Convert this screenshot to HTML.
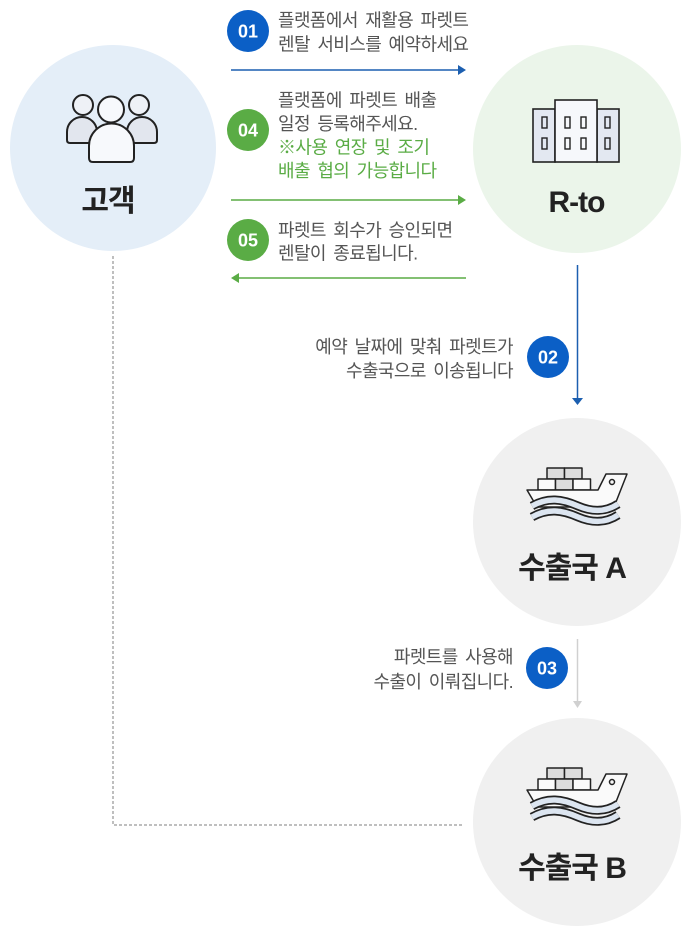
<!DOCTYPE html>
<html>
<head>
<meta charset="utf-8">
<style>
  html,body{margin:0;padding:0;background:#fff;}
  body{width:687px;height:930px;overflow:hidden;}
  svg{display:block;}
  .t{font-family:"Liberation Sans","Noto Sans CJK KR",sans-serif;font-size:18px;fill:#555;letter-spacing:-0.6px;word-spacing:3px;}
  .g{fill:#5aac45;}
  .n{font-family:"Liberation Sans","Noto Sans CJK KR",sans-serif;font-size:18px;font-weight:bold;fill:#fff;}
  .L{font-family:"Liberation Sans","Noto Sans CJK KR",sans-serif;font-size:30px;font-weight:bold;fill:#222;letter-spacing:-1px;}
</style>
</head>
<body>
<svg width="687" height="930" viewBox="0 0 687 930" xmlns="http://www.w3.org/2000/svg">
  <!-- circles -->
  <circle cx="113" cy="148" r="103" fill="#e4eef8"/>
  <circle cx="577" cy="149" r="104" fill="#ebf5ea"/>
  <circle cx="577" cy="522" r="104" fill="#f0f0f0"/>
  <circle cx="577" cy="822" r="104" fill="#f0f0f0"/>

  <!-- dashed connector -->
  <path d="M113,256 V825 H462" fill="none" stroke="#aaa" stroke-width="1.5" stroke-dasharray="3,2"/>

  <!-- arrows -->
  <line x1="231" y1="70" x2="460" y2="70" stroke="#1c5fb0" stroke-width="1.5"/>
  <polygon points="458,65 466,70 458,75" fill="#1c5fb0"/>
  <line x1="231" y1="200" x2="460" y2="200" stroke="#5aac45" stroke-width="1.5"/>
  <polygon points="458,195 466,200 458,205" fill="#5aac45"/>
  <line x1="237" y1="278" x2="466" y2="278" stroke="#5aac45" stroke-width="1.5"/>
  <polygon points="239,273 231,278 239,283" fill="#5aac45"/>
  <line x1="577.5" y1="265" x2="577.5" y2="399" stroke="#1c5fb0" stroke-width="1.5"/>
  <polygon points="572,398 577.5,405 583,398" fill="#1c5fb0"/>
  <line x1="577.5" y1="639" x2="577.5" y2="702" stroke="#d0d0d0" stroke-width="1.5"/>
  <polygon points="573,701 577.5,708 582,701" fill="#d0d0d0"/>

  <!-- badges -->
  <circle cx="248" cy="31" r="21" fill="#0b5fc6"/>
  <text class="n" x="248" y="37.5" text-anchor="middle">01</text>
  <circle cx="248" cy="130" r="21" fill="#5aac45"/>
  <text class="n" x="248" y="136.5" text-anchor="middle">04</text>
  <circle cx="248" cy="240" r="21" fill="#5aac45"/>
  <text class="n" x="248" y="246.5" text-anchor="middle">05</text>
  <circle cx="548" cy="357" r="21" fill="#0b5fc6"/>
  <text class="n" x="548" y="363.5" text-anchor="middle">02</text>
  <circle cx="547" cy="668" r="21" fill="#0b5fc6"/>
  <text class="n" x="547" y="674.5" text-anchor="middle">03</text>

  <!-- step texts -->
  <text class="t" x="278" y="26.5">플랫폼에서 재활용 파렛트</text>
  <text class="t" x="278" y="50.5">렌탈 서비스를 예약하세요</text>

  <text class="t" x="278" y="106.5">플랫폼에 파렛트 배출</text>
  <text class="t" x="278" y="130">일정 등록해주세요.</text>
  <text class="t g" x="278" y="153.5">※사용 연장 및 조기</text>
  <text class="t g" x="278" y="177">배출 협의 가능합니다</text>

  <text class="t" x="278" y="236.5">파렛트 회수가 승인되면</text>
  <text class="t" x="278" y="259.5">렌탈이 종료됩니다.</text>

  <text class="t" x="513" y="353" text-anchor="end">예약 날짜에 맞춰 파렛트가</text>
  <text class="t" x="513" y="377" text-anchor="end">수출국으로 이송됩니다</text>

  <text class="t" x="513" y="663" text-anchor="end">파렛트를 사용해</text>
  <text class="t" x="513" y="688" text-anchor="end">수출이 이뤄집니다.</text>

  <!-- people icon -->
  <g stroke="#222" stroke-width="2" stroke-linejoin="round">
    <path d="M67,140 V132 A15,15 0 0 1 97,132 V140 Q97,143 94,143 H70 Q67,143 67,140 Z" fill="#e2e6ee"/>
    <circle cx="83" cy="105" r="10" fill="#eef1f6"/>
    <path d="M127,140 V132 A15,15 0 0 1 157,132 V140 Q157,143 154,143 H130 Q127,143 127,140 Z" fill="#e2e6ee"/>
    <circle cx="139" cy="105" r="10" fill="#eef1f6"/>
    <path d="M89,158 V146 A22.5,22.5 0 0 1 134,146 V158 Q134,162 130,162 H93 Q89,162 89,158 Z" fill="#f7f9fc"/>
    <circle cx="111" cy="109.5" r="13" fill="#f7f9fc"/>
  </g>

  <!-- building icon -->
  <g stroke="#222" stroke-width="1.6">
    <rect x="533" y="109" width="22" height="53" fill="#e3e8f1"/>
    <rect x="597" y="109" width="22" height="53" fill="#e3e8f1"/>
    <rect x="555" y="100" width="42" height="62" fill="#f6f8fb"/>
    <g fill="none" stroke-width="1.4">
      <rect x="542" y="117" width="5" height="11"/>
      <rect x="542" y="138" width="5" height="11"/>
      <rect x="565" y="117" width="5" height="11"/>
      <rect x="565" y="138" width="5" height="11"/>
      <rect x="581" y="117" width="5" height="11"/>
      <rect x="581" y="138" width="5" height="11"/>
      <rect x="605" y="117" width="5" height="11"/>
      <rect x="605" y="138" width="5" height="11"/>
    </g>
  </g>

  <!-- ship icons -->
  <g stroke="#222" stroke-width="1.5" stroke-linejoin="round">
    <rect x="547" y="468" width="17.5" height="11" fill="#dcdcdc"/>
    <rect x="564.5" y="468" width="17.5" height="11" fill="#dcdcdc"/>
    <rect x="538" y="479" width="17.5" height="11" fill="#fafafa"/>
    <rect x="555.5" y="479" width="17.5" height="11" fill="#dcdcdc"/>
    <rect x="573" y="479" width="17.5" height="11" fill="#fafafa"/>
    <path d="M527,490 H598 L606,474 H627 L614,507 H537 Z" fill="#fafafa"/>
    <circle cx="612" cy="482" r="2.5" fill="none"/>
    <path d="M532,506 C548,497 562,499 578,506 C592,512 606,512 618,504" fill="none" stroke="#222" stroke-width="9"/>
    <path d="M532,506 C548,497 562,499 578,506 C592,512 606,512 618,504" fill="none" stroke="#dce5f0" stroke-width="5.5"/>
    <path d="M532,517 C548,508 562,510 578,517 C592,523 606,523 618,515" fill="none" stroke="#222" stroke-width="9"/>
    <path d="M532,517 C548,508 562,510 578,517 C592,523 606,523 618,515" fill="none" stroke="#dce5f0" stroke-width="5.5"/>
  </g>
  <g transform="translate(0,300)" stroke="#222" stroke-width="1.5" stroke-linejoin="round">
    <rect x="547" y="468" width="17.5" height="11" fill="#dcdcdc"/>
    <rect x="564.5" y="468" width="17.5" height="11" fill="#dcdcdc"/>
    <rect x="538" y="479" width="17.5" height="11" fill="#fafafa"/>
    <rect x="555.5" y="479" width="17.5" height="11" fill="#dcdcdc"/>
    <rect x="573" y="479" width="17.5" height="11" fill="#fafafa"/>
    <path d="M527,490 H598 L606,474 H627 L614,507 H537 Z" fill="#fafafa"/>
    <circle cx="612" cy="482" r="2.5" fill="none"/>
    <path d="M532,506 C548,497 562,499 578,506 C592,512 606,512 618,504" fill="none" stroke="#222" stroke-width="9"/>
    <path d="M532,506 C548,497 562,499 578,506 C592,512 606,512 618,504" fill="none" stroke="#dce5f0" stroke-width="5.5"/>
    <path d="M532,517 C548,508 562,510 578,517 C592,523 606,523 618,515" fill="none" stroke="#222" stroke-width="9"/>
    <path d="M532,517 C548,508 562,510 578,517 C592,523 606,523 618,515" fill="none" stroke="#dce5f0" stroke-width="5.5"/>
  </g>

  <!-- node labels -->
  <text class="L" x="108" y="211" text-anchor="middle">고객</text>
  <text class="L" x="576.5" y="212" text-anchor="middle">R-to</text>
  <text class="L" x="572" y="578" text-anchor="middle">수출국 A</text>
  <text class="L" x="572" y="878" text-anchor="middle">수출국 B</text>
</svg>
</body>
</html>
